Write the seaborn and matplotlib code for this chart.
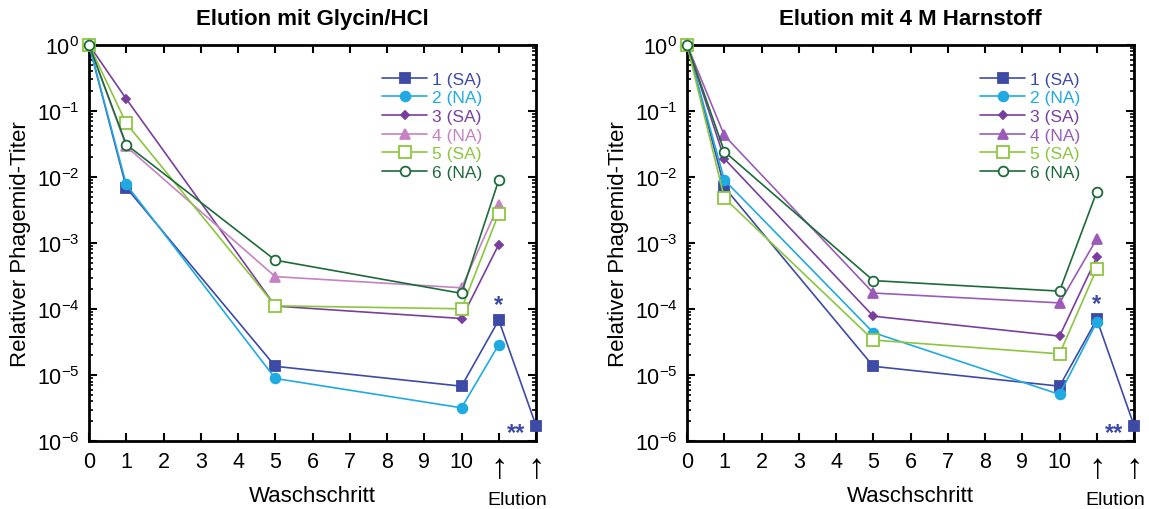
import numpy as np
import pandas as pd
import matplotlib
matplotlib.use("Agg")
import matplotlib.pyplot as plt
import seaborn as sns

sns.set_theme(style="ticks")
plt.rcParams["font.family"] = ["Liberation Sans", "DejaVu Sans"]
plt.rcParams["mathtext.fontset"] = "custom"
plt.rcParams["mathtext.rm"] = "Liberation Sans"
plt.rcParams["mathtext.it"] = "Liberation Sans:italic"
plt.rcParams["mathtext.default"] = "regular"
for key in ["text.color", "axes.labelcolor", "xtick.color", "ytick.color", "axes.edgecolor"]:
    plt.rcParams[key] = "black"

# Wash steps (0, 1, 5, 10) followed by the elution fraction (11) and the
# second elution (12)
steps = [0, 1, 5, 10, 11]
step_extra = 12

series_labels = ["1 (SA)", "2 (NA)", "3 (SA)", "4 (NA)", "5 (SA)", "6 (NA)"]

# Elution with glycine/HCl
glycin_1 = [1.0, 6.9e-3, 1.36e-5, 6.8e-6, 6.8e-5]
glycin_2 = [1.0, 7.7e-3, 8.9e-6, 3.2e-6, 2.9e-5]
glycin_3 = [1.0, 0.152, 1.11e-4, 7.2e-5, 9.5e-4]
glycin_4 = [1.0, 0.029, 3.1e-4, 2.1e-4, 3.8e-3]
glycin_5 = [1.0, 0.065, 1.12e-4, 1.01e-4, 2.8e-3]
glycin_6 = [1.0, 0.031, 5.5e-4, 1.73e-4, 9.0e-3]

# Elution with 4 M urea
harnstoff_1 = [1.0, 7.0e-3, 1.36e-5, 6.8e-6, 7.0e-5]
harnstoff_2 = [1.0, 9.0e-3, 4.4e-5, 5.1e-6, 6.4e-5]
harnstoff_3 = [1.0, 0.0189, 7.8e-5, 3.9e-5, 6.1e-4]
harnstoff_4 = [1.0, 0.0425, 1.75e-4, 1.24e-4, 1.16e-3]
harnstoff_5 = [1.0, 4.8e-3, 3.4e-5, 2.1e-5, 4.1e-4]
harnstoff_6 = [1.0, 0.0243, 2.7e-4, 1.87e-4, 6.0e-3]

# Series 1 re-eluted a second time
second_elution_1 = 1.72e-6

xtick_labels = ["0", "1", "2", "3", "4", "5", "6", "7", "8", "9", "10", "↑", "↑"]

colors_left = ["#3d4ba6", "#20aae2", "#7a3f9d", "#c683c4", "#8cc63f", "#1d6b3a"]
colors_right = ["#3d4ba6", "#20aae2", "#7a3f9d", "#9a5cb8", "#8cc63f", "#1d6b3a"]

marker_styles = [
    dict(marker="s", markersize=7, mfc="fill"),
    dict(marker="o", markersize=7, mfc="fill"),
    dict(marker="D", markersize=4.5, mfc="fill"),
    dict(marker="^", markersize=7, mfc="fill"),
    dict(marker="s", markersize=8, mfc="none"),
    dict(marker="o", markersize=7, mfc="none"),
]


def draw_panel(ax, data, colors, title):
    for i, (vals, lab) in enumerate(zip(data, series_labels)):
        xs = list(steps)
        ys = list(vals)
        if i == 0:
            xs.append(step_extra)
            ys.append(second_elution_1)
        df = pd.DataFrame({"step": xs, "titer": ys})
        st = marker_styles[i]
        c = colors[i]
        sns.lineplot(
            data=df, x="step", y="titer", ax=ax, color=c, linewidth=1.2,
            marker=st["marker"], markersize=st["markersize"],
            markerfacecolor=(c if st["mfc"] == "fill" else "white"),
            markeredgecolor=c, markeredgewidth=1.3,
            label=lab, clip_on=False, zorder=3 + i * 0.1,
        )

    ax.set_yscale("log")
    ax.set_ylim(1e-6, 1.0)
    ax.set_xlim(0, 12)
    ax.set_xticks(range(13))
    ax.set_xticklabels(xtick_labels)
    ax.set_yticks([10.0 ** k for k in range(-6, 1)])
    ax.set_yticklabels([f"$10^{{{k}}}$" for k in range(-6, 1)])
    ax.yaxis.set_minor_locator(matplotlib.ticker.LogLocator(base=10, subs=np.arange(2, 10)))
    ax.yaxis.set_minor_formatter(matplotlib.ticker.NullFormatter())

    ax.tick_params(axis="both", which="major", direction="in", length=6, width=1.5,
                   labelsize=15.5, top=True, right=True, pad=7)
    ax.tick_params(axis="y", which="minor", direction="in", length=3, width=1.2,
                   left=True, right=True)
    ax.tick_params(axis="x", which="minor", bottom=False, top=False)
    for lbl in ax.get_xticklabels()[11:]:
        lbl.set_fontsize(25)
        lbl.set_fontweight("light")
    for sp in ax.spines.values():
        sp.set_linewidth(2)
        sp.set_color("black")

    ax.set_xlabel("Waschschritt", fontsize=16, va="center")
    ax.xaxis.set_label_coords(0.5, -0.138)
    ax.set_ylabel("Relativer Phagemid-Titer", fontsize=16, labelpad=4)
    ax.set_title(title, fontsize=16, fontweight="bold", pad=15)
    ax.text(11.5, -0.146, "Elution", transform=ax.get_xaxis_transform(),
            ha="center", va="center", fontsize=14)

    # significance marks on series 1
    ax.annotate("*", xy=(11, vals_first[ax]), xytext=(0, 3), textcoords="offset points",
                ha="center", va="bottom", fontsize=17, color=colors[0], fontweight="bold")
    ax.annotate("**", xy=(12, second_elution_1), xytext=(-8, -5), textcoords="offset points",
                ha="right", va="center", fontsize=17, color=colors[0], fontweight="bold")

    leg = ax.legend(loc="upper left", bbox_to_anchor=(0.64, 0.95), frameon=False,
                    fontsize=12.5, handlelength=2.6, labelspacing=0.2,
                    handletextpad=0.3, borderaxespad=0)
    for txt, c in zip(leg.get_texts(), colors):
        txt.set_color(c)


fig = plt.figure(figsize=(11.49, 5.10), dpi=100)
ax1 = fig.add_axes([0.0775, 0.133, 0.389, 0.777])
ax2 = fig.add_axes([0.598, 0.133, 0.389, 0.777])

vals_first = {ax1: glycin_1[-1], ax2: harnstoff_1[-1]}

draw_panel(ax1, [glycin_1, glycin_2, glycin_3, glycin_4, glycin_5, glycin_6],
           colors_left, "Elution mit Glycin/HCl")
draw_panel(ax2, [harnstoff_1, harnstoff_2, harnstoff_3, harnstoff_4, harnstoff_5, harnstoff_6],
           colors_right, "Elution mit 4 M Harnstoff")

fig.savefig("out.png", dpi=100)
